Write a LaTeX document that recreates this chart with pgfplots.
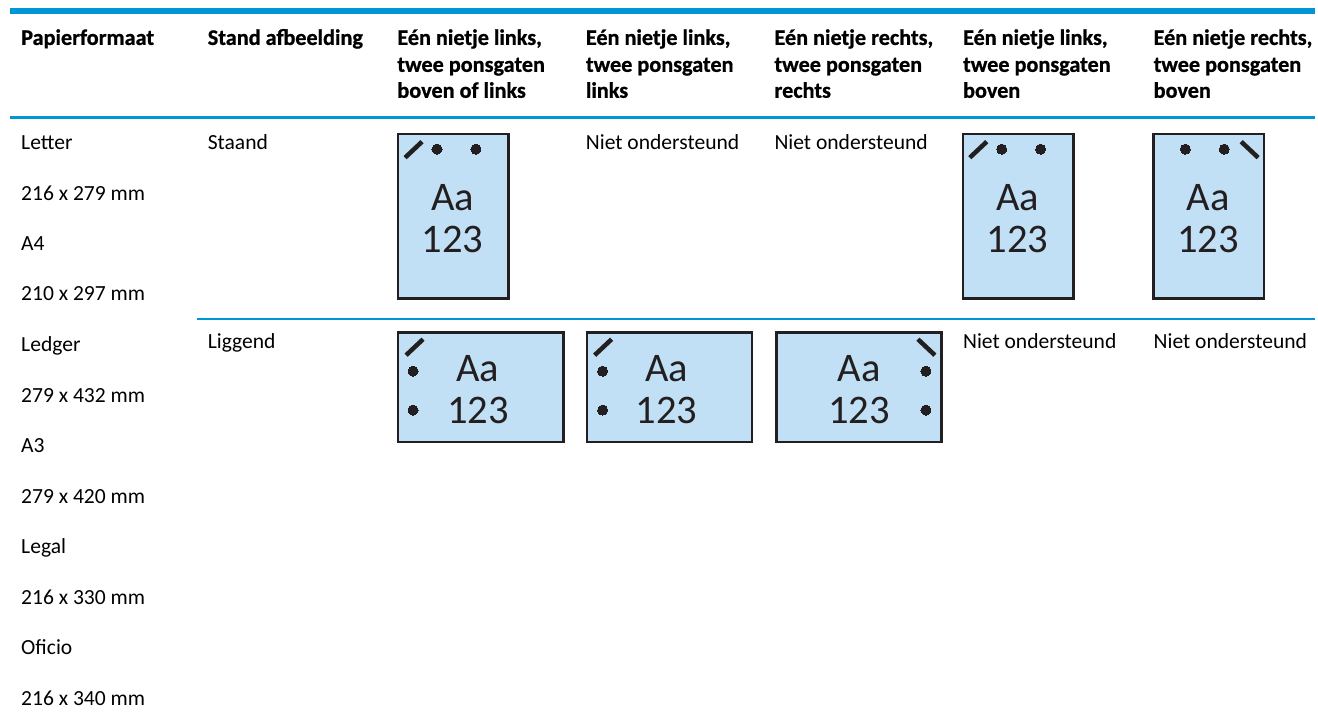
\documentclass[border=0pt]{standalone}
\usepackage{pgfplots}
\pgfplotsset{compat=1.18}
\usepackage{fontspec}
\setmainfont[BoldFeatures={FakeBold=0.9}]{Carlito}
\newfontfamily\bodyfont[FakeBold=0.25,AutoFakeBold=false]{Carlito}
\definecolor{hpblue}{HTML}{0096D6}
\definecolor{sheetfill}{HTML}{C1E0F6}
\definecolor{ink}{HTML}{231F20}
\newcommand{\body}[3]{\node[anchor=base west,inner sep=0pt,text=black,font=\fontsize{16.2}{18}\selectfont] at (axis cs:#1,#2) {#3};}
\newcommand{\head}[3]{\node[anchor=base west,inner sep=0pt,text=black,font=\fontsize{16.7}{18}\selectfont\bfseries] at (axis cs:#1,#2) {#3};}
\newcommand{\sheet}[4]{\addplot[draw=ink,fill=sheetfill,line width=1.8pt] coordinates {(#1,#2) (#3,#2) (#3,#4) (#1,#4)} -- cycle;}
\newcommand{\staple}[4]{\addplot[draw=ink,line width=3.4pt] coordinates {(#1,#2) (#3,#4)};}
\newcommand{\holes}[1]{\addplot[only marks,mark=*,mark size=3.8pt,mark options={fill=ink,draw=ink,line width=0pt}] coordinates {#1};}
\newcommand{\sample}[3]{%
\node[inner sep=0pt,anchor=base,text=ink,font=\fontsize{30.5}{36}\selectfont] at (axis cs:#1,#2) {Aa};
\node[inner sep=0pt,anchor=base,text=ink,font=\fontsize{30.5}{36}\selectfont] at (axis cs:#1,#3) {123};}
\begin{document}
\begin{tikzpicture}
\begin{axis}[
  scale only axis, width=988.5pt, height=540.75pt,
  xmin=0, xmax=1318, ymin=0, ymax=721, y dir=reverse,
  hide axis, clip=false]
% page extent (invisible)
\addplot[draw=none] coordinates {(0,0) (1318,721)};
% table rules
\addplot[draw=hpblue,line width=4.5pt] coordinates {(10,11.3) (1318,11.3)};
\addplot[draw=hpblue,line width=2.2pt] coordinates {(10,117.5) (1318,117.5)};
\addplot[draw=hpblue,line width=0.8pt] coordinates {(197,319.7) (1318,319.7)};
% portrait sheets
\sheet{399.2}{134.2}{509.8}{299.2}
\staple{406}{158}{423}{142}
\holes{(438,149.5) (477,149.5)}
\sample{453.5}{210.5}{253}
\sheet{965.2}{134.2}{1075.8}{299.2}
\staple{972}{158}{989}{142}
\holes{(1004,149.5) (1043,149.5)}
\sample{1020}{210.5}{253}
\sheet{1156.2}{134.2}{1266.8}{299.2}
\staple{1261}{158}{1244}{142}
\holes{(1188,149.5) (1227,149.5)}
\sample{1211}{210.5}{253}
% landscape sheets
\sheet{399.2}{333.2}{564.8}{443.2}
\staple{407}{356}{424}{340}
\holes{(414,372) (414,411)}
\sample{479}{382}{424}
\sheet{588.2}{333.2}{753.8}{443.2}
\staple{596}{356}{613}{340}
\holes{(604,372) (604,411)}
\sample{668}{382}{424}
\sheet{778.2}{333.2}{943.8}{443.2}
\staple{937}{356}{920}{340}
\holes{(928,372) (928,411)}
\sample{861}{382}{424}
% header
\head{21}{45}{Papierformaat}
\head{208}{45}{Stand afbeelding}
\head{398}{45}{Eén nietje links,}
\head{398}{72}{twee ponsgaten}
\head{398}{98}{boven of links}
\head{587}{45}{Eén nietje links,}
\head{587}{72}{twee ponsgaten}
\head{587}{98}{links}
\head{776}{45}{Eén nietje rechts,}
\head{776}{72}{twee ponsgaten}
\head{776}{98}{rechts}
\head{965}{45}{Eén nietje links,}
\head{965}{72}{twee ponsgaten}
\head{965}{98}{boven}
\head{1156}{45}{Eén nietje rechts,}
\head{1156}{72}{twee ponsgaten}
\head{1156}{98}{boven}
% first column
\body{21}{150}{Letter}
\body{21}{200.5}{216 x 279 mm}
\body{21}{251}{A4}
\body{21}{301.5}{210 x 297 mm}
\body{21}{352}{Ledger}
\body{21}{403}{279 x 432 mm}
\body{21}{453.5}{A3}
\body{21}{504.5}{279 x 420 mm}
\body{21}{555}{Legal}
\body{21}{606}{216 x 330 mm}
\body{21}{656}{Oficio}
\body{21}{707}{216 x 340 mm}
% others
\body{208}{150}{Staand}
\body{208}{349}{Liggend}
\body{587}{150}{Niet ondersteund}
\body{776}{150}{Niet ondersteund}
\body{965}{349}{Niet ondersteund}
\body{1156}{349}{Niet ondersteund}
\end{axis}
\end{tikzpicture}
\end{document}
